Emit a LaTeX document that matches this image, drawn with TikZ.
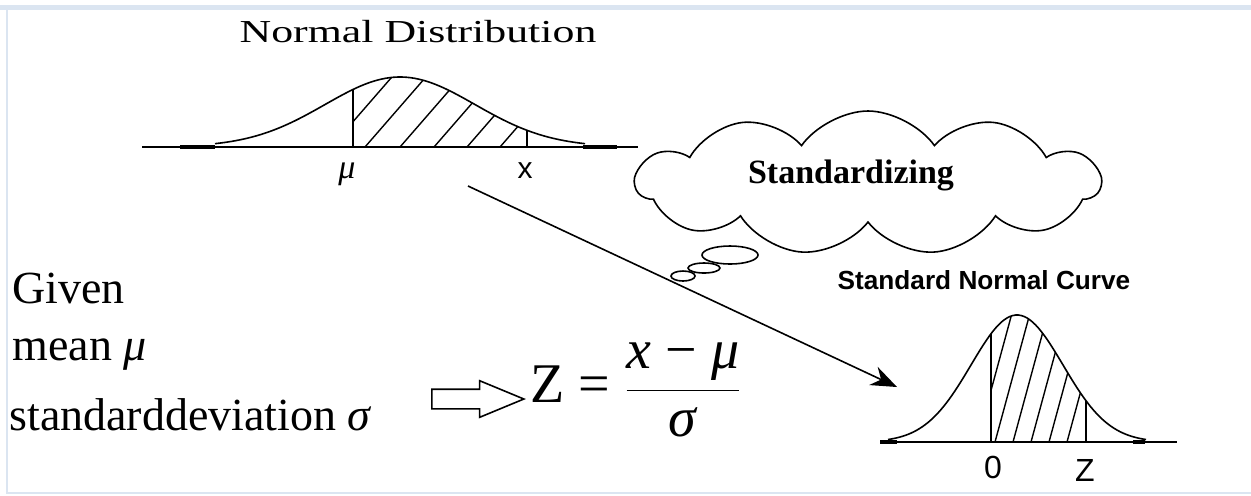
\documentclass[tikz,border=0pt]{standalone}
\usepackage{fontspec}
\setmainfont{Liberation Serif}
\setsansfont{Liberation Sans}
\usepackage{tikz}
\usetikzlibrary{arrows.meta,shapes.symbols,shapes.arrows}
\definecolor{framecol}{HTML}{DBE5F1}

\begin{document}
\begin{tikzpicture}[x=0.5pt,y=-0.5pt,
  declare function={gtop(\t)=147-70*exp(-0.5*((\t-400)/75)^2);
                    gbot(\t)=442-127*exp(-0.5*((\t-1017)/46)^2);},
  curve/.style={line width=0.8pt},
  hatch/.style={line width=0.7pt},
  lbl/.style={inner sep=0pt}]
  \useasboundingbox (0,0) rectangle (1251,495);
  \fill[framecol] (0,5) rectangle (1251,10);
  \draw[framecol,line width=1pt] (6.5,10) -- (6.5,493) -- (1251,493);

  % upper curve
  \node[lbl] (title) at (418,32) {\scalebox{1.37}[1]{\fontsize{16}{18}\selectfont Normal Distribution}};
  \draw[curve] (142,147) -- (638,147);
  \draw[line width=1.6pt] (180,147) -- (215,147) (583,147) -- (617,147);
  \draw[curve] plot[domain=215:585,samples=90] (\x,{gtop(\x)});
  \draw[curve] (353,147) -- (353,{gtop(353)});
  \draw[curve] (527,147) -- (527,{gtop(527)});
  \begin{scope}
    \clip (353,147) -- plot[domain=353:527,samples=40] (\x,{gtop(\x)}) -- (527,147) -- cycle;
    \foreach \a in {331,365,400,434,467,500}
      \draw[hatch] (\a,147) -- ++(100,-115);
  \end{scope}
  \node[lbl,font=\fontsize{17}{19}\selectfont\itshape] (mu) at (347,174) {μ};
  \node[lbl,font=\sffamily\fontsize{15}{17}\selectfont] (xval) at (525,171) {x};

  % thought cloud
  \node[cloud,draw,curve,cloud puffs=11,cloud puff arc=110,aspect=3.2,
        minimum width=232pt,minimum height=72pt] (cloud) at (868,183) {};
  \node[lbl,font=\fontsize{17}{19}\selectfont\bfseries] (stdz) at (851,175) {Standardizing};
  \draw[curve,fill=white] (730,255) ellipse [x radius=28, y radius=9];
  \draw[curve,fill=white] (704,268) ellipse [x radius=16, y radius=5];
  \draw[curve,fill=white] (683,276) ellipse [x radius=12, y radius=5];

  \coordinate (from) at (468,186);
  \coordinate (to) at (897,387);
  \draw[curve,-{Stealth[length=13pt,width=10pt]}] (from) -- (to);

  % standard normal curve
  \node[lbl,font=\sffamily\bfseries\fontsize{13.1}{15}\selectfont] (sncurve) at (984,280) {Standard Normal Curve};
  \draw[curve] (886,442) -- (1177,442);
  \draw[line width=1.6pt] (880,442) -- (897,442) (1133,442) -- (1145,442);
  \draw[curve] plot[domain=888:1146,samples=90] (\x,{gbot(\x)});
  \draw[curve] (991,442) -- (991,{gbot(991)});
  \draw[curve] (1086,442) -- (1086,{gbot(1086)});
  \begin{scope}
    \clip (991,442) -- plot[domain=991:1086,samples=40] (\x,{gbot(\x)}) -- (1086,442) -- cycle;
    \foreach \a in {977,995,1013,1031,1049,1067}
      \draw[hatch] (\a,442) -- ++(38,-140);
  \end{scope}
  \node[lbl,font=\sffamily\fontsize{16}{18}\selectfont] (zero) at (993,467) {0};
  \node[lbl,font=\sffamily\fontsize{16}{18}\selectfont] (zval) at (1085,470) {Z};

  % given values and formula
  \begin{scope}[every node/.style={lbl,anchor=base west,font=\fontsize{23}{27}\selectfont}]
    \node (given) at (12,303) {Given};
    \node (mean) at (12,360) {mean \textit{μ}};
    \node (sdev) at (9,430) {standarddeviation \textit{σ}};
  \end{scope}
  \node[single arrow,draw,curve,inner sep=4.5pt,single arrow head extend=4.25pt,
        single arrow tip angle=45,minimum height=46pt] (imply) at (466,399) {};
  \node[lbl,font=\fontsize{28}{32}\selectfont] (zform) at (636,390)
    {Z = \(\displaystyle\frac{\mbox{\textit{x} − \textit{μ}}}{\mbox{\textit{σ}}}\)};
\end{tikzpicture}
\end{document}
